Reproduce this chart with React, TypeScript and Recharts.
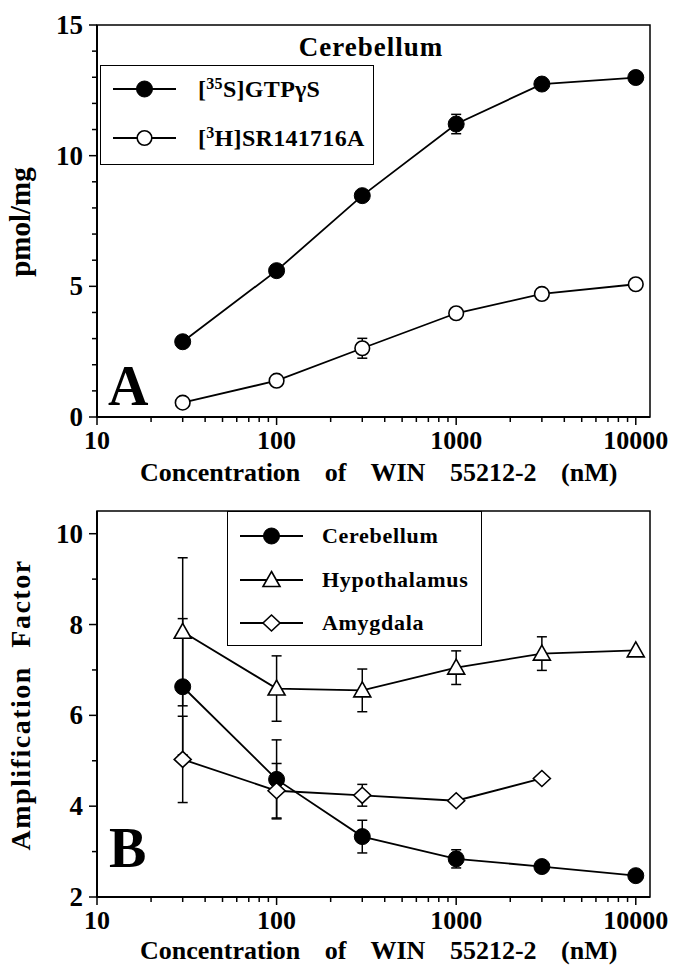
import React from 'react';
import { LineChart, Line, XAxis, YAxis, ErrorBar, ReferenceArea, Legend } from 'recharts';

const FONT = '"Liberation Serif", "Times New Roman", Times, serif';

// ---------- data ----------
const concentrations = [30, 100, 300, 1000, 3000, 10000];

// Panel A (pmol/mg)
const gtpValues = [2.88, 5.6, 8.47, 11.21, 12.74, 12.99];
const gtpErrors = [0, 0, 0, 0.37, 0, 0];
const srValues = [0.55, 1.39, 2.63, 3.97, 4.71, 5.08];
const srErrors = [0, 0, 0.38, 0, 0, 0];

// Panel B (Amplification factor)
const cerebellumValues = [6.63, 4.59, 3.33, 2.84, 2.67, 2.47];
const cerebellumErrors = [1.5, 0.87, 0.36, 0.2, 0, 0];
const hypothalamusValues = [7.84, 6.59, 6.55, 7.05, 7.36, 7.43];
const hypothalamusErrors = [1.63, 0.72, 0.47, 0.37, 0.37, 0];
const amygdalaValues: (number | null)[] = [5.03, 4.34, 4.24, 4.12, 4.61, null];
const amygdalaErrors = [0.95, 0.6, 0.24, 0, 0, 0];

const majorXTicks = [10, 100, 1000, 10000];
const xTicks = [
  10, 20, 30, 40, 50, 60, 70, 80, 90,
  100, 200, 300, 400, 500, 600, 700, 800, 900,
  1000, 2000, 3000, 4000, 5000, 6000, 7000, 8000, 9000,
  10000,
];
const yTicksA = [0, 1, 2, 3, 4, 5, 6, 7, 8, 9, 10, 11, 12, 13, 14, 15];
const majorYTicksA = [0, 5, 10, 15];
const yTicksB = [2, 3, 4, 5, 6, 7, 8, 9, 10];
const majorYTicksB = [2, 4, 6, 8, 10];

const legendOrder = ['gtp', 'sr', 'cer', 'hyp', 'amy'];

const dataA = concentrations.map((c, i) => ({
  conc: c,
  gtp: gtpValues[i],
  gtpErr: gtpErrors[i],
  sr: srValues[i],
  srErr: srErrors[i],
}));

const dataB = concentrations.map((c, i) => ({
  conc: c,
  cer: cerebellumValues[i],
  cerErr: cerebellumErrors[i],
  hyp: hypothalamusValues[i],
  hypErr: hypothalamusErrors[i],
  amy: amygdalaValues[i],
  amyErr: amygdalaErrors[i],
}));

// ---------- markers ----------
type Shape = 'filled' | 'open' | 'triangle' | 'diamond';

const Marker = ({ shape, cx, cy }: { shape: Shape; cx: number; cy: number }) => {
  if (shape === 'filled') return <circle cx={cx} cy={cy} r={8} fill="#000" stroke="#000" strokeWidth={1} />;
  if (shape === 'open') return <circle cx={cx} cy={cy} r={7.3} fill="#fff" stroke="#000" strokeWidth={1.6} />;
  if (shape === 'triangle')
    return (
      <polygon
        points={`${cx},${cy - 8.5} ${cx + 8.5},${cy + 6.5} ${cx - 8.5},${cy + 6.5}`}
        fill="#fff"
        stroke="#000"
        strokeWidth={1.6}
      />
    );
  return (
    <polygon
      points={`${cx},${cy - 8} ${cx + 8.5},${cy} ${cx},${cy + 8} ${cx - 8.5},${cy}`}
      fill="#fff"
      stroke="#000"
      strokeWidth={1.6}
    />
  );
};

const makeDot = (shape: Shape) => (props: any) => {
  const { cx, cy, index } = props;
  if (cx == null || cy == null || props.value == null) return <g key={`e-${shape}-${index}`} />;
  return (
    <g key={`d-${shape}-${index}`}>
      <Marker shape={shape} cx={cx} cy={cy} />
    </g>
  );
};

// ---------- ticks ----------
const XTick = (props: any) => {
  const { x, y, payload } = props;
  const v = payload.value;
  const major = majorXTicks.includes(v);
  return (
    <g>
      <line x1={x} x2={x} y1={y} y2={y + (major ? 8 : 5)} stroke="#000" strokeWidth={1.5} />
      {major && (
        <text x={x} y={y + 32} textAnchor="middle" fontFamily={FONT} fontWeight="bold" fontSize={26} fill="#000">
          {v}
        </text>
      )}
    </g>
  );
};

const makeYTick = (majors: number[]) => (props: any) => {
  const { x, y, payload } = props;
  const v = payload.value;
  const major = majors.includes(v);
  return (
    <g>
      <line x1={x - (major ? 8 : 5)} x2={x} y1={y} y2={y} stroke="#000" strokeWidth={1.5} />
      {major && (
        <text x={x - 14} y={y + 9} textAnchor="end" fontFamily={FONT} fontWeight="bold" fontSize={27} fill="#000">
          {v}
        </text>
      )}
    </g>
  );
};

// ---------- legend ----------
const renderLabel = (label: string) => {
  const m = label.match(/^\[(\d+)([A-Za-z]+)\](.*)$/);
  if (!m) return label;
  return (
    <>
      [<span style={{ fontSize: 16, position: 'relative', top: -8 }}>{m[1]}</span>
      {m[2]}]{m[3]}
    </>
  );
};

const shapeOf: Record<string, Shape> = {
  gtp: 'filled',
  sr: 'open',
  cer: 'filled',
  hyp: 'triangle',
  amy: 'diamond',
};

const makeLegend =
  (w: number, h: number, rows: number[], iconLeft: number, textLeft: number, fontSize: number, letterSpacing: number) =>
  (props: any) => {
    const payload = (props.payload || [])
      .filter((p: any) => p.type !== 'none' && legendOrder.includes(p.dataKey))
      .sort((a: any, b: any) => legendOrder.indexOf(a.dataKey) - legendOrder.indexOf(b.dataKey));
    return (
      <div
        style={{
          position: 'relative',
          width: w,
          height: h,
          border: '1.6px solid #000',
          boxSizing: 'border-box',
          background: '#fff',
        }}
      >
        {payload.map((item: any, i: number) => (
          <React.Fragment key={item.dataKey}>
            <svg
              width={66}
              height={22}
              style={{ position: 'absolute', left: iconLeft, top: rows[i] - 11, overflow: 'visible' }}
            >
              <line x1={0} x2={63} y1={11} y2={11} stroke="#000" strokeWidth={1.8} />
              <Marker shape={shapeOf[item.dataKey]} cx={31.5} cy={11} />
            </svg>
            <div
              style={{
                position: 'absolute',
                left: textLeft,
                top: rows[i] - 15,
                height: 30,
                lineHeight: '30px',
                fontFamily: FONT,
                fontWeight: 'bold',
                fontSize,
                letterSpacing,
                whiteSpace: 'nowrap',
                color: '#000',
              }}
            >
              {renderLabel(item.value)}
            </div>
          </React.Fragment>
        ))}
      </div>
    );
  };

const legendA = makeLegend(274, 100, [23, 72], 12, 97, 24, 0.3);
const legendB = makeLegend(255, 135, [24, 68, 111], 12, 94, 22, 0.7);

const axisLineStyle = { stroke: '#000', strokeWidth: 2 };

const errorLine = (key: string, errKey: string) => (
  <Line
    key={`err-${key}`}
    dataKey={key}
    stroke="none"
    dot={false}
    activeDot={false}
    legendType="none"
    isAnimationActive={false}
  >
    <ErrorBar dataKey={errKey} width={5} stroke="#000" strokeWidth={1.5} direction="y" />
  </Line>
);

export default function App() {
  return (
    <div style={{ position: 'absolute', left: 0, top: 0, width: 676, height: 965, background: '#fff' }}>
      {/* Panel A */}
      <div style={{ position: 'absolute', left: 0, top: 0 }}>
        <LineChart width={676} height={490} data={dataA} margin={{ top: 25, right: 26, bottom: 33, left: 0 }}>
          <XAxis
            dataKey="conc"
            type="number"
            scale="log"
            domain={[10, 12000]}
            allowDataOverflow
            ticks={xTicks}
            interval={0}
            tick={XTick}
            tickLine={false}
            tickSize={0}
            tickMargin={0}
            axisLine={axisLineStyle}
            height={40}
          />
          <YAxis
            type="number"
            domain={[0, 15]}
            ticks={yTicksA}
            interval={0}
            tick={makeYTick(majorYTicksA)}
            tickLine={false}
            tickSize={0}
            tickMargin={0}
            axisLine={axisLineStyle}
            width={97}
          />
          <ReferenceArea x1={10} x2={12000} y1={0} y2={15} fill="none" stroke="#000" strokeWidth={1.5} ifOverflow="visible" />
          {errorLine('gtp', 'gtpErr')}
          {errorLine('sr', 'srErr')}
          <Line dataKey="gtp" name="[35S]GTPγS" stroke="#000" strokeWidth={1.8} dot={makeDot('filled')} isAnimationActive={false} />
          <Line dataKey="sr" name="[3H]SR141716A" stroke="#000" strokeWidth={1.8} dot={makeDot('open')} isAnimationActive={false} />
          <Legend
            layout="vertical"
            align="center"
            verticalAlign="middle"
            wrapperStyle={{ left: 100, top: 65, width: 274, height: 100 }}
            content={legendA}
          />
        </LineChart>
      </div>

      {/* Panel B */}
      <div style={{ position: 'absolute', left: 0, top: 490 }}>
        <LineChart width={676} height={475} data={dataB} margin={{ top: 21, right: 26, bottom: 28, left: 0 }}>
          <XAxis
            dataKey="conc"
            type="number"
            scale="log"
            domain={[10, 12000]}
            allowDataOverflow
            ticks={xTicks}
            interval={0}
            tick={XTick}
            tickLine={false}
            tickSize={0}
            tickMargin={0}
            axisLine={axisLineStyle}
            height={40}
          />
          <YAxis
            type="number"
            domain={[2, 10.5]}
            allowDataOverflow
            ticks={yTicksB}
            interval={0}
            tick={makeYTick(majorYTicksB)}
            tickLine={false}
            tickSize={0}
            tickMargin={0}
            axisLine={axisLineStyle}
            width={97}
          />
          <ReferenceArea x1={10} x2={12000} y1={2} y2={10.5} fill="none" stroke="#000" strokeWidth={1.5} ifOverflow="visible" />
          {errorLine('cer', 'cerErr')}
          {errorLine('hyp', 'hypErr')}
          {errorLine('amy', 'amyErr')}
          <Line dataKey="cer" name="Cerebellum" stroke="#000" strokeWidth={1.8} dot={makeDot('filled')} isAnimationActive={false} />
          <Line dataKey="hyp" name="Hypothalamus" stroke="#000" strokeWidth={1.8} dot={makeDot('triangle')} isAnimationActive={false} />
          <Line dataKey="amy" name="Amygdala" stroke="#000" strokeWidth={1.8} dot={makeDot('diamond')} isAnimationActive={false} />
          <Legend
            layout="vertical"
            align="center"
            verticalAlign="middle"
            wrapperStyle={{ left: 227, top: 21, width: 255, height: 135 }}
            content={legendB}
          />
        </LineChart>
      </div>

      {/* Titles and panel letters */}
      <svg
        width={676}
        height={965}
        style={{ position: 'absolute', left: 0, top: 0, pointerEvents: 'none' }}
        fontFamily={FONT}
        fontWeight="bold"
        fill="#000"
      >
        <text x={371} y={56} textAnchor="middle" fontSize={27} letterSpacing={1}>
          Cerebellum
        </text>
        <text x={108} y={405} fontSize={56}>
          A
        </text>
        <text x={109} y={867} fontSize={56}>
          B
        </text>
        <text x={140} y={481} fontSize={26} wordSpacing={18}>
          Concentration of WIN 55212-2 (nM)
        </text>
        <text x={140} y={959} fontSize={26} wordSpacing={18}>
          Concentration of WIN 55212-2 (nM)
        </text>
        <text x={30} y={222} fontSize={29} textAnchor="middle" transform="rotate(-90 30 222)">
          pmol/mg
        </text>
        <text x={30} y={705} fontSize={28} textAnchor="middle" letterSpacing={1.5} wordSpacing={10} transform="rotate(-90 30 705)">
          Amplification Factor
        </text>
      </svg>
    </div>
  );
}
